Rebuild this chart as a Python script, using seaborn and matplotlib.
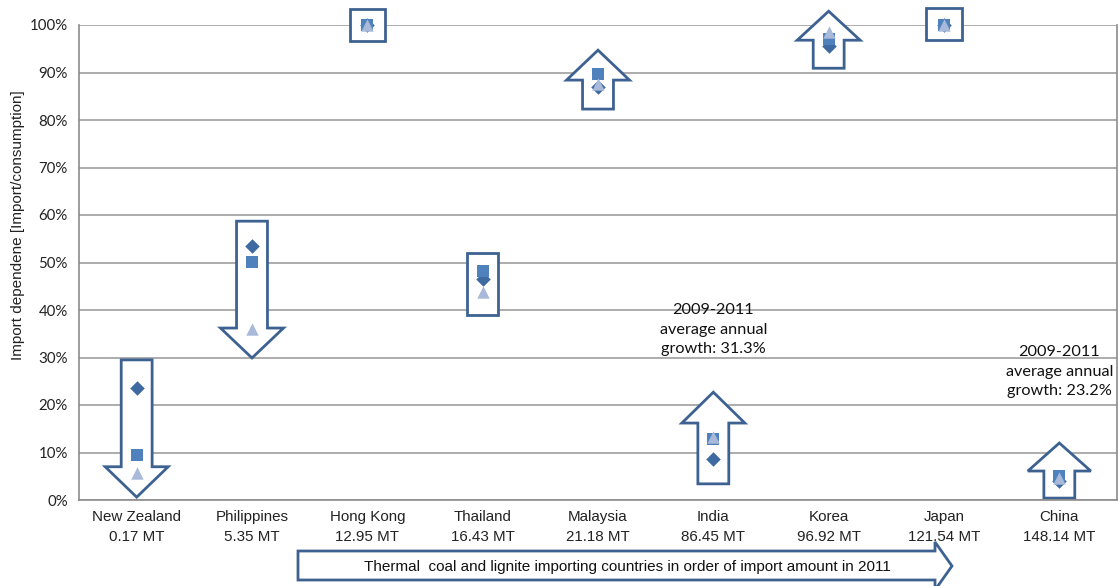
import matplotlib
matplotlib.use("Agg")
import matplotlib.pyplot as plt
from matplotlib.patches import Polygon
import seaborn as sns
import pandas as pd
import numpy as np

# ---------------- data ----------------
countries = ["New Zealand", "Philippines", "Hong Kong", "Thailand", "Malaysia",
             "India", "Korea", "Japan", "China"]
import_mt = ["0.17 MT", "5.35 MT", "12.95 MT", "16.43 MT", "21.18 MT",
             "86.45 MT", "96.92 MT", "121.54 MT", "148.14 MT"]
years = ["2009", "2010", "2011"]
dep_2009 = [0.236, 0.535, 1.000, 0.465, 0.870, 0.086, 0.956, 1.000, 0.040]
dep_2010 = [0.095, 0.501, 1.000, 0.482, 0.897, 0.128, 0.970, 1.000, 0.050]
dep_2011 = [0.057, 0.360, 1.000, 0.438, 0.876, 0.133, 0.985, 1.000, 0.046]
growth_notes = {"India": "2009-2011\naverage annual\ngrowth: 31.3%",
                "China": "2009-2011\naverage annual\ngrowth: 23.2%"}
yticks = [0, 0.1, 0.2, 0.3, 0.4, 0.5, 0.6, 0.7, 0.8, 0.9, 1.0]
ylabel = "Import dependene [Import/consumption]"
bottom_caption = "Thermal  coal and lignite importing countries in order of import amount in 2011"

df = pd.DataFrame({
    "country": countries * 3,
    "year": [y for y in years for _ in countries],
    "value": dep_2009 + dep_2010 + dep_2011,
})

# ---------------- style ----------------
sns.set_theme(style="white")
plt.rcParams["font.family"] = ["Liberation Sans", "DejaVu Sans"]

W, H = 1118, 586
fig = plt.figure(figsize=(W / 100, H / 100), dpi=100)
ax = fig.add_axes([79 / W, 1 - 500 / H, 1038 / W, 475 / H])

arrow_col = "#3d6291"
grid_col = "#a6a6a6"
spine_col = "#8c8c8c"

# ---------------- decorations: block arrows / boxes (behind markers) ----------------
SH, HH = 0.134, 0.273  # shaft / head half-widths in category units


def down_arrow(x, top, base, tip):
    pts = [(x - SH, top), (x + SH, top), (x + SH, base), (x + HH, base),
           (x, tip), (x - HH, base), (x - SH, base)]
    ax.add_patch(Polygon(pts, closed=True, fc="white", ec=arrow_col, lw=2,
                         zorder=2, clip_on=False, joinstyle="miter"))


def up_arrow(x, bottom, base, tip):
    pts = [(x - SH, bottom), (x + SH, bottom), (x + SH, base), (x + HH, base),
           (x, tip), (x - HH, base), (x - SH, base)]
    ax.add_patch(Polygon(pts, closed=True, fc="white", ec=arrow_col, lw=2,
                         zorder=2, clip_on=False, joinstyle="miter"))


def box(x, lo, hi, hw=0.145):
    pts = [(x - hw, lo), (x + hw, lo), (x + hw, hi), (x - hw, hi)]
    ax.add_patch(Polygon(pts, closed=True, fc="white", ec=arrow_col, lw=2,
                         zorder=2, clip_on=False, joinstyle="miter"))


down_arrow(0, 0.295, 0.070, 0.006)
down_arrow(1, 0.587, 0.362, 0.299)
box(2, 0.966, 1.034, 0.152)
box(3, 0.390, 0.520, 0.134)
up_arrow(4, 0.823, 0.884, 0.947)
up_arrow(5, 0.034, 0.162, 0.227)
up_arrow(6, 0.909, 0.968, 1.029)
box(7, 0.968, 1.036, 0.152)
up_arrow(8, 0.004, 0.061, 0.120)

# ---------------- markers ----------------
palette = {"2009": "#3f6aa1", "2010": "#4f81bd", "2011": "#a8b9da"}
markers = {"2009": "D", "2010": "s", "2011": "^"}
sizes = {"2009": 55, "2010": 70, "2011": 80}
for yr in years:
    sub = df[df["year"] == yr]
    sns.scatterplot(data=sub, x="country", y="value", ax=ax, color=palette[yr],
                    marker=markers[yr], s=sizes[yr], linewidth=0, zorder=5,
                    clip_on=False, legend=False)

# ---------------- axes ----------------
ax.set_xlim(-0.5, len(countries) - 0.5)
ax.set_ylim(0, 1)
ax.set_yticks(yticks)
ax.set_yticklabels([f"{int(round(t * 100))}%" for t in yticks],
                   fontsize=10.8, family=["Lato", "DejaVu Sans"])
ax.yaxis.grid(True, color=grid_col, lw=1.3, zorder=0)
ax.xaxis.grid(False)
ax.set_axisbelow(True)

ax.set_xticks(range(len(countries)))
ax.set_xticklabels([f"{c}\n{m}" for c, m in zip(countries, import_mt)],
                   fontsize=10.9, linespacing=1.55, color="#222222")
ax.set_xticks(np.arange(-0.5, len(countries), 1.0), minor=True)
ax.tick_params(axis="x", which="major", length=0, pad=7)
ax.tick_params(axis="x", which="minor", length=5, color=spine_col, width=1, direction="out")
ax.tick_params(axis="y", which="major", length=5, color=spine_col, width=1,
               direction="out", pad=3, labelcolor="#222222")
ax.set_xlabel("")
ax.set_ylabel(ylabel, fontsize=11, color="#222222")
ax.yaxis.set_label_coords(-54 / 1038, (500 - 225) / 475)

for side in ["left", "bottom", "right"]:
    ax.spines[side].set_visible(True)
    ax.spines[side].set_color(spine_col)
    ax.spines[side].set_linewidth(1.2)
ax.spines["top"].set_visible(False)

# growth annotations
for c, note in growth_notes.items():
    xi = countries.index(c)
    yc = 0.358 if c == "India" else 0.27
    ax.text(xi, yc, note, ha="center", va="center", fontsize=11.7,
            family=["Lato", "DejaVu Sans"], linespacing=1.5, color="#111111", zorder=6)

# ---------------- bottom caption arrow (figure coords) ----------------
def fpt(px, py):
    return (px / W, 1 - py / H)


cap_pts = [fpt(298, 551), fpt(935, 551), fpt(935, 542), fpt(952, 566),
           fpt(935, 590), fpt(935, 580), fpt(298, 580)]
fig.patches.append(Polygon(cap_pts, closed=True, fc="white", ec=arrow_col, lw=2,
                           transform=fig.transFigure, figure=fig, joinstyle="miter"))
fig.text(627 / W, 1 - 567 / H, bottom_caption, ha="center", va="center",
         fontsize=11, color="#111111")

fig.savefig("out.png", dpi=100, facecolor="white")
